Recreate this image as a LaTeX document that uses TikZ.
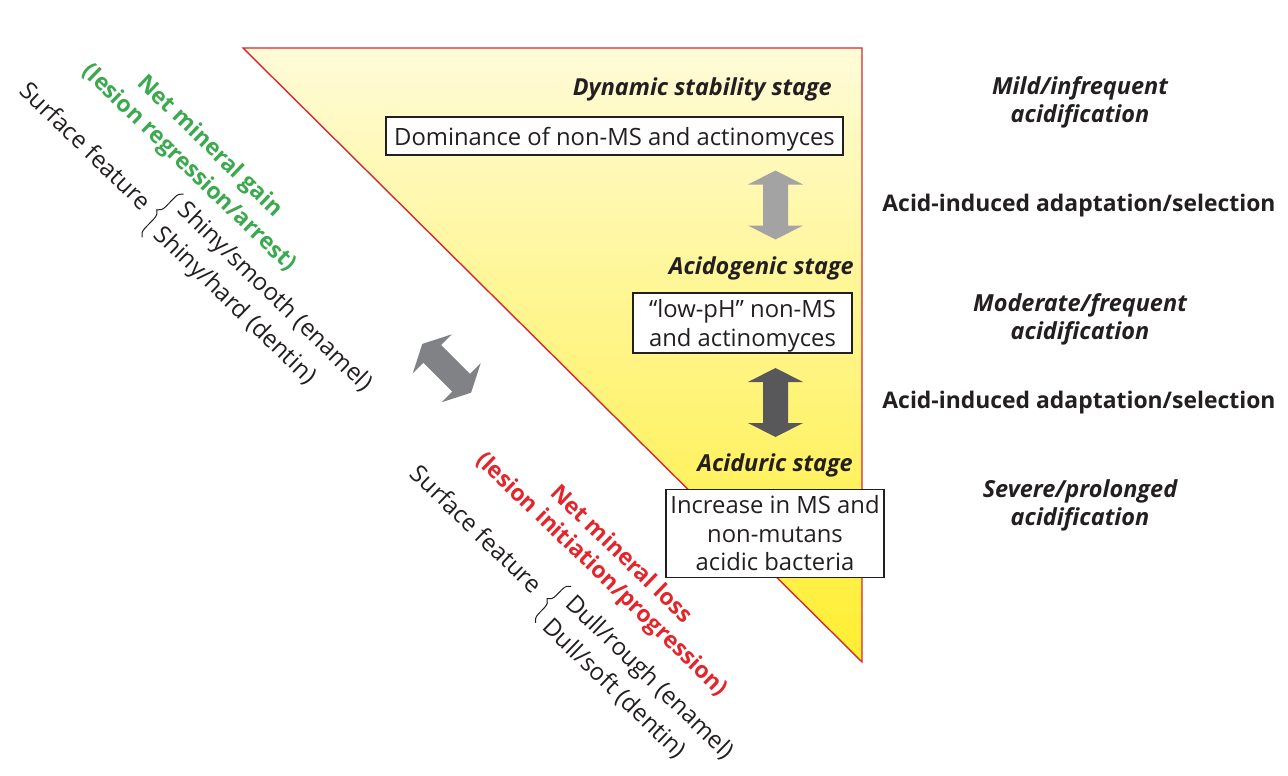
\documentclass[tikz,border=0pt]{standalone}
\usepackage{fontspec}
\setmainfont{Open Sans}
\usetikzlibrary{decorations.pathreplacing}
\definecolor{ink}{HTML}{231F20}
\definecolor{trtop}{HTML}{FFFBD8}
\definecolor{trbot}{HTML}{FFEE30}
\definecolor{redl}{HTML}{D42A2F}
\definecolor{gainc}{HTML}{3BA94E}
\definecolor{lossc}{HTML}{E2262B}
\definecolor{arrlight}{HTML}{A3A3A3}
\definecolor{arrdark}{HTML}{58585A}
\definecolor{arrmid}{HTML}{818285}
\tikzset{
  body/.style={font=\fontsize{23.8}{29}\selectfont, text=ink, inner sep=0pt},
  stagebox/.style={body, draw=ink, line width=1.1pt, fill=white, align=center},
  stagehead/.style={font=\fontsize{23.4}{28}\selectfont\bfseries\itshape, text=ink, inner sep=0pt, anchor=east},
  sidehead/.style={font=\fontsize{23.5}{28.5}\selectfont\bfseries\itshape, text=ink, inner sep=0pt, align=center},
  sidebold/.style={font=\fontsize{22.9}{28}\selectfont\bfseries, text=ink, inner sep=0pt},
  gaintitle/.style={font=\fontsize{22.9}{30}\selectfont\bfseries, text=gainc, inner sep=0pt, align=center},
  losstitle/.style={font=\fontsize{22.9}{28}\selectfont\bfseries, text=lossc, inner sep=0pt, align=center},
  rtext/.style={body, font=\fontsize{24}{29}\selectfont},
  bracestyle/.style={draw=ink, line width=1pt, decorate, decoration={brace, amplitude=8.5pt}},
  dblarrow/.pic={\fill (0,-34.5) -- (27.5,-20.5) -- (12.5,-20.5) -- (12.5,20.5) -- (27.5,20.5) -- (0,34.5) -- (-27.5,20.5) -- (-12.5,20.5) -- (-12.5,-20.5) -- (-27.5,-20.5) -- cycle;}
}
\begin{document}
\begin{tikzpicture}[x=1pt,y=-1pt]
\useasboundingbox (0,0) rectangle (1288,776);
% triangle
\shadedraw[top color=trtop, bottom color=trbot, draw=redl, line width=1.4pt, line join=miter]
  (243,48) coordinate (tA) -- (862,48) coordinate (tB) -- (862,662) coordinate (tC) -- cycle;
% stages
\node[stagehead] (hdyn) at (832,89) {Dynamic stability stage};
\node[stagebox, minimum width=457pt, minimum height=38pt, text depth=0pt] (bdyn) at (614.5,136) {Dominance of non-MS and actinomyces};
\node[stagehead] (hacg) at (854,268) {Acidogenic stage};
\node[stagebox, minimum width=219pt, minimum height=60pt, text depth=0pt] (bacg) at (742.5,323) {“low-pH” non-MS\\and actinomyces};
\node[stagehead] (hacd) at (853,465) {Aciduric stage};
\node[stagebox, minimum width=218pt, minimum height=88pt, font=\fontsize{23.8}{28.5}\selectfont] (bacd) at (775,533.5) {Increase in MS and\\non-mutans\\acidic bacteria};
% vertical arrows
\pic[fill=arrlight] at (775.5,205) {dblarrow};
\pic[fill=arrdark] at (775.5,402.5) {dblarrow};
% diagonal arrow
\pic[fill=arrmid, rotate=45] at (446.7,368.3) {dblarrow};
% right side
\node[sidehead] (rmild) at (1080,102.5) {Mild/infrequent\\acidification};
\node[sidebold] (rsel1) at (1079,206) {Acid-induced adaptation/selection};
\node[sidehead] (rmod) at (1080,319.5) {Moderate/frequent\\acidification};
\node[sidebold] (rsel2) at (1079,402.5) {Acid-induced adaptation/selection};
\node[sidehead] (rsev) at (1080,505.5) {Severe/prolonged\\acidification};
% rotated groups
\begin{scope}[rotate=-44, transform shape]
  \node[gaintitle] (gtitle) at (252.7,-25) {Net mineral gain\\(lesion regression/arrest)};
  \node[rtext, anchor=east] (gsf) at (249,45) {Surface feature};
  \coordinate (gb1) at (267,72);
  \coordinate (gb2) at (267,12);
  \draw[bracestyle] (gb1) -- (gb2);
  \node[rtext, anchor=west] (gs1) at (274,23.5) {Shiny/smooth (enamel)};
  \node[rtext, anchor=west] (gs2) at (274,57.5) {Shiny/hard (dentin)};
  \node[losstitle] (ltitle) at (832,-18) {Net mineral loss\\(lesion initiation/progression)};
  \node[rtext, anchor=east] (lsf) at (796,49) {Surface feature};
  \coordinate (lb1) at (818,76);
  \coordinate (lb2) at (818,25);
  \draw[bracestyle] (lb1) -- (lb2);
  \node[rtext, anchor=west] (ld1) at (826,37) {Dull/rough (enamel)};
  \node[rtext, anchor=west] (ld2) at (826,69) {Dull/soft (dentin)};
\end{scope}
\end{tikzpicture}
\end{document}
